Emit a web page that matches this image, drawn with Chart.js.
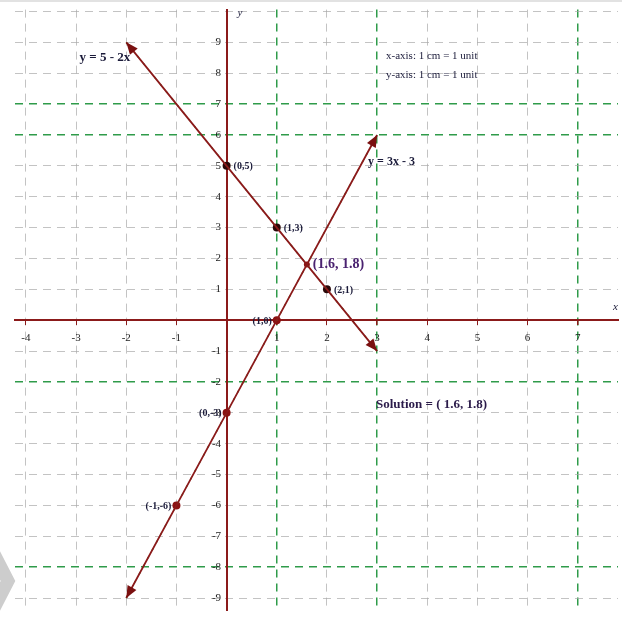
<!DOCTYPE html>
<html>
<head>
<meta charset="utf-8">
<script src="https://cdn.jsdelivr.net/npm/chart.js@4/dist/chart.umd.min.js"></script>
<style>
  html, body { margin: 0; padding: 0; background: #fff; }
  #wrap { width: 622px; height: 620px; }
</style>
</head>
<body>
<div id="wrap"><canvas id="c" width="622" height="620"></canvas></div>
<script>
// Line A: y = 5 - 2x
const lineAX = [-2, 0, 1, 2, 3];
const lineAY = [9, 5, 3, 1, -1];
// Line B: y = 3x - 3
const lineBX = [-2, -1, 0, 1, 3];
const lineBY = [-9, -6, -3, 0, 6];

// Marked points on each line
const ptsAX = [0, 1, 2];
const ptsAY = [5, 3, 1];
const ptsALabels = ['(0,5)', '(1,3)', '(2,1)'];
const ptsBX = [1, 0, -1];
const ptsBY = [0, -3, -6];
const ptsBLabels = ['(1,0)', '(0,-3)', '(-1,-6)'];

// Intersection of the two lines
const solX = [1.6];
const solY = [1.8];
const solLabel = '(1.6, 1.8)';

// Tick values
const xTicks = [-4, -3, -2, -1, 0, 1, 2, 3, 4, 5, 6, 7];
const yTicks = [-9, -8, -7, -6, -5, -4, -3, -2, -1, 0, 1, 2, 3, 4, 5, 6, 7, 8, 9, 10];
// Grid lines drawn in green
const xGreen = [1, 3, 7];
const yGreen = [7, 6, -2, -8];

const AXIS = '#8b1a1a';
const GREY = 'rgba(170,170,170,0.7)';
const GREEN = '#2f9b4a';
const TEXT = '#1b1b3a';

const pts = (xs, ys) => xs.map((x, i) => ({ x: x, y: ys[i] }));
const isGreen = (c, list) => c.tick && list.includes(c.tick.value);

const decorations = {
  id: 'decorations',
  beforeDraw(chart) {
    const ctx = chart.ctx;
    ctx.save();
    ctx.fillStyle = '#e2e2e2';
    ctx.fillRect(0, 0, chart.width, 2);
    // faint chevron mark, lower left
    ctx.strokeStyle = '#cdcdcd';
    ctx.lineWidth = 13;
    ctx.lineJoin = 'miter';
    ctx.beginPath();
    ctx.moveTo(-9, 548);
    ctx.lineTo(8, 581);
    ctx.lineTo(-9, 614);
    ctx.stroke();
    ctx.restore();
  },
  afterDatasetsDraw(chart) {
    const ctx = chart.ctx;
    const xs = chart.scales.x, ys = chart.scales.y;
    const px = v => xs.getPixelForValue(v);
    const py = v => ys.getPixelForValue(v);

    // arrowheads at both ends of each line
    const arrow = (x0, y0, x1, y1) => {
      const a = Math.atan2(y0 - y1, x0 - x1);
      const L = 12, W = 5;
      ctx.beginPath();
      ctx.moveTo(x0, y0);
      ctx.lineTo(x0 - L * Math.cos(a) + W * Math.sin(a), y0 - L * Math.sin(a) - W * Math.cos(a));
      ctx.lineTo(x0 - L * Math.cos(a) - W * Math.sin(a), y0 - L * Math.sin(a) + W * Math.cos(a));
      ctx.closePath();
      ctx.fill();
    };
    ctx.save();
    ctx.fillStyle = '#7a1010';
    [[lineAX, lineAY], [lineBX, lineBY]].forEach(([lx, ly]) => {
      const n = lx.length;
      arrow(px(lx[0]), py(ly[0]), px(lx[1]), py(ly[1]));
      arrow(px(lx[n - 1]), py(ly[n - 1]), px(lx[n - 2]), py(ly[n - 2]));
    });

    ctx.textBaseline = 'middle';
    ctx.fillStyle = TEXT;

    // point labels
    ctx.font = 'bold 10px "Liberation Serif"';
    ctx.textAlign = 'left';
    ptsAX.forEach((x, i) => ctx.fillText(ptsALabels[i], px(x) + 7, py(ptsAY[i]) + 1));
    ctx.textAlign = 'right';
    ptsBX.forEach((x, i) => ctx.fillText(ptsBLabels[i], px(x) - 5, py(ptsBY[i]) + 1));

    // intersection label
    ctx.textAlign = 'left';
    ctx.fillStyle = '#4a2270';
    ctx.font = 'bold 14px "Liberation Serif"';
    ctx.fillText(solLabel, px(solX[0]) + 6, py(solY[0]));

    // equation labels
    ctx.fillStyle = TEXT;
    ctx.font = 'bold 13px "Liberation Serif"';
    ctx.textAlign = 'right';
    ctx.fillText('y = 5 - 2x', px(lineAX[0]) + 4, py(lineAY[0]) + 15);
    ctx.textAlign = 'left';
    ctx.font = 'bold 12px "Liberation Serif"';
    ctx.fillText('y = 3x - 3', px(lineBX[lineBX.length - 1]) - 9, py(lineBY[lineBY.length - 1]) + 27);

    // scale note
    ctx.font = '11px "Liberation Serif"';
    ctx.fillText('x-axis: 1 cm = 1 unit', 386, 56);
    ctx.fillText('y-axis: 1 cm = 1 unit', 386, 75);

    // solution
    ctx.font = 'bold 13px "Liberation Serif"';
    ctx.fillStyle = '#2b1b4a';
    ctx.fillText('Solution = ( ' + solX[0] + ', ' + solY[0] + ')', 376, 405);

    // axis names
    ctx.fillStyle = TEXT;
    ctx.font = 'italic 11px "Liberation Serif"';
    ctx.fillText('y', px(0) + 11, 13);
    ctx.fillText('x', chart.chartArea.right - 5, py(0) - 13);
    ctx.restore();
  }
};

new Chart(document.getElementById('c'), {
  type: 'scatter',
  data: {
    datasets: [
      { data: pts(lineAX, lineAY), showLine: true, borderColor: '#8b1a1a', borderWidth: 1.8, pointRadius: 0 },
      { data: pts(lineAX, lineAY), showLine: true, borderColor: GREEN, borderWidth: 1.4, borderDash: [2, 7], pointRadius: 0 },
      { data: pts(lineBX, lineBY), showLine: true, borderColor: '#8b1a1a', borderWidth: 1.8, pointRadius: 0 },
      { data: pts(lineBX, lineBY), showLine: true, borderColor: GREEN, borderWidth: 1.4, borderDash: [2, 7], pointRadius: 0 },
      { data: pts(ptsAX, ptsAY), pointRadius: 4, backgroundColor: '#2a0808', borderWidth: 0 },
      { data: pts(ptsBX, ptsBY), pointRadius: 4, backgroundColor: '#8b1212', borderWidth: 0 },
      { data: pts(solX, solY), pointRadius: 3, backgroundColor: '#8b1212', borderWidth: 0 }
    ]
  },
  options: {
    responsive: false,
    animation: false,
    devicePixelRatio: 1,
    layout: { padding: { left: 15, top: 5, right: 0, bottom: 0 } },
    plugins: { legend: { display: false }, tooltip: { enabled: false } },
    scales: {
      x: {
        type: 'linear',
        min: -4.218,
        max: 7.802,
        position: { y: 0 },
        afterBuildTicks: s => { s.ticks = xTicks.map(v => ({ value: v })); },
        grid: {
          color: c => isGreen(c, xGreen) ? GREEN : GREY,
          lineWidth: c => isGreen(c, xGreen) ? 1.5 : 1,
          drawTicks: true,
          tickLength: 4,
          tickColor: AXIS
        },
        border: { display: true, color: AXIS, width: 2, dash: [8, 6] },
        ticks: {
          autoSkip: false,
          maxRotation: 0,
          padding: 7,
          color: '#222',
          font: { family: 'Liberation Serif', size: 11 },
          callback: v => v === 0 ? '' : String(v)
        }
      },
      y: {
        type: 'linear',
        min: -9.40,
        max: 10.06,
        position: { x: 0 },
        afterBuildTicks: s => { s.ticks = yTicks.map(v => ({ value: v })); },
        grid: {
          color: c => isGreen(c, yGreen) ? GREEN : GREY,
          lineWidth: c => isGreen(c, yGreen) ? 1.5 : 1,
          drawTicks: false
        },
        border: { display: true, color: AXIS, width: 2, dash: [8, 6] },
        ticks: {
          autoSkip: false,
          color: '#222',
          font: { family: 'Liberation Serif', size: 11 },
          callback: v => (v === 0 || v === 10) ? '' : v + '  '
        }
      }
    }
  },
  plugins: [decorations]
});
</script>
</body>
</html>
